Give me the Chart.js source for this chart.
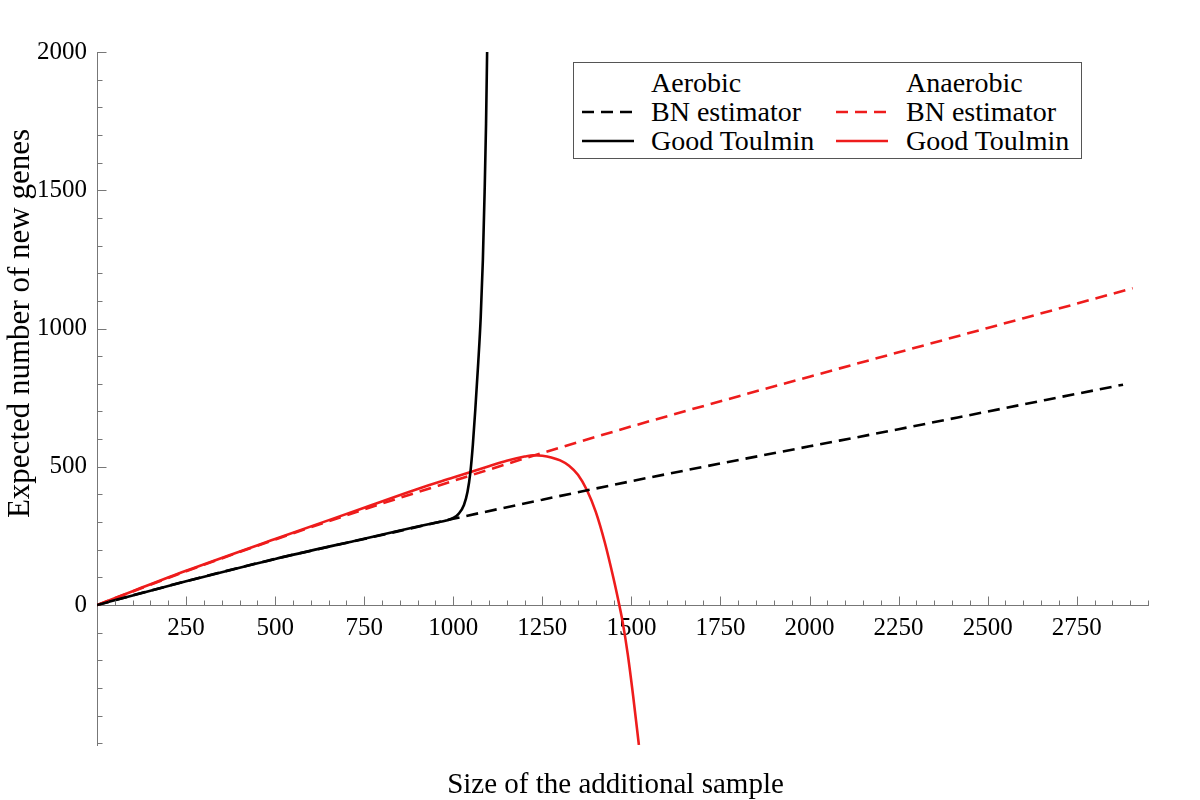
<!DOCTYPE html>
<html>
<head>
<meta charset="utf-8">
<script src="https://cdn.jsdelivr.net/npm/chart.js@4.4.1/dist/chart.umd.min.js"></script>
<style>
  html, body { margin: 0; padding: 0; background: #fff; }
  #wrap { position: relative; width: 1200px; height: 800px; }
  canvas { display: block; }
  #legend { position: absolute; left: 0; top: 0; }
</style>
</head>
<body>
<div id="wrap">
  <canvas id="c" width="1200" height="800"></canvas>
  <svg id="legend" width="1200" height="800" xmlns="http://www.w3.org/2000/svg"></svg>
</div>
<script>
// ---------- data ----------
const bnAerobicX = [0, 100, 250, 500, 750, 1000, 1250, 1500, 1750, 2000, 2250, 2500, 2750, 2880];
const bnAerobicY = [0, 35, 86, 167, 239, 312, 381, 448, 512, 574, 636, 700, 764, 797];

const bnAnaerobicX = [0, 100, 250, 500, 750, 1000, 1250, 1500, 1750, 2000, 2250, 2500, 2750, 2907];
const bnAnaerobicY = [0, 49, 122, 237, 346, 449, 550, 646, 737, 826, 914, 1002, 1090, 1146];

const gtAerobicX = [0, 100, 250, 500, 750, 900, 950, 980, 1000, 1015, 1030, 1040, 1048, 1055, 1062, 1070, 1077, 1083, 1088, 1092, 1095];
const gtAerobicY = [0, 35, 86, 167, 240, 284, 298, 306, 315, 330, 362, 410, 480, 580, 710, 875, 1040, 1245, 1495, 1740, 2000];

const gtAnaerobicX = [0, 100, 250, 500, 750, 900, 1000, 1100, 1150, 1200, 1225, 1250, 1275, 1300, 1325, 1350, 1375, 1400, 1425, 1450, 1466, 1475, 1490, 1505, 1521];
const gtAnaerobicY = [0, 50, 124, 239, 352, 420, 461, 502, 522, 537, 542, 540, 534, 523, 504, 471, 416, 337, 228, 95, 0, -58, -180, -330, -506];

const xTickLabels = [250, 500, 750, 1000, 1250, 1500, 1750, 2000, 2250, 2500, 2750];
const yTickLabels = [0, 500, 1000, 1500, 2000];

const xTitle = 'Size of the additional sample';
const yTitle = 'Expected number of new genes';
const legendHeaders = ['Aerobic', 'Anaerobic'];
const legendLabels = ['BN estimator', 'Good Toulmin'];

// ---------- styling ----------
const RED = '#ee1c1c';
const BLACK = '#000000';
const AXIS = '#777777';
const FONT = "'Liberation Serif', 'Times New Roman', serif";

function pts(xs, ys) { return xs.map((x, i) => ({ x: x, y: ys[i] })); }

const axisDecor = {
  id: 'axisDecor',
  afterDraw(chart) {
    const { ctx } = chart;
    const xs = chart.scales.x, ys = chart.scales.y;
    const y0 = Math.round(ys.getPixelForValue(0)) + 0.5;
    const x0 = Math.round(xs.getPixelForValue(0)) + 0.5;
    ctx.save();
    ctx.strokeStyle = AXIS;
    ctx.lineWidth = 1;
    ctx.beginPath();
    for (let v = 50; v <= xs.max + 0.001; v += 50) {
      const px = Math.round(xs.getPixelForValue(v)) + 0.5;
      const len = (v % 250 === 0) ? 9 : 5;
      ctx.moveTo(px, y0); ctx.lineTo(px, y0 - len);
    }
    for (let v = -500; v <= ys.max + 0.001; v += 100) {
      if (v === 0) continue;
      const py = Math.round(ys.getPixelForValue(v)) + 0.5;
      const len = (v % 500 === 0 && v > 0) ? 9 : 5;
      ctx.moveTo(x0, py); ctx.lineTo(x0 + len, py);
    }
    ctx.stroke();

    ctx.fillStyle = '#000';
    ctx.font = '29px ' + FONT;
    ctx.textAlign = 'center';
    ctx.textBaseline = 'middle';
    const area = chart.chartArea;
    ctx.fillText(xTitle, (area.left + area.right) / 2 - 7, 785);
    ctx.translate(21, ys.getPixelForValue(1000) - 5);
    ctx.rotate(-Math.PI / 2);
    ctx.font = '31px ' + FONT;
    ctx.fillText(yTitle, 0, 0);
    ctx.restore();
  }
};

const chart = new Chart(document.getElementById('c'), {
  type: 'line',
  data: {
    datasets: [
      { label: legendHeaders[0] + ' ' + legendLabels[0], data: pts(bnAerobicX, bnAerobicY),
        borderColor: BLACK, borderWidth: 2.6, borderDash: [12, 7] },
      { label: legendHeaders[1] + ' ' + legendLabels[0], data: pts(bnAnaerobicX, bnAnaerobicY),
        borderColor: RED, borderWidth: 2.6, borderDash: [12, 7] },
      { label: legendHeaders[0] + ' ' + legendLabels[1], data: pts(gtAerobicX, gtAerobicY),
        borderColor: BLACK, borderWidth: 2.6 },
      { label: legendHeaders[1] + ' ' + legendLabels[1], data: pts(gtAnaerobicX, gtAnaerobicY),
        borderColor: RED, borderWidth: 2.6 }
    ]
  },
  options: {
    responsive: false,
    animation: false,
    devicePixelRatio: 1,
    parsing: false,
    elements: {
      point: { radius: 0, hoverRadius: 0 },
      line: { cubicInterpolationMode: 'monotone', fill: false, borderCapStyle: 'butt' }
    },
    layout: { padding: { left: 0, top: 52, right: 52, bottom: 55 } },
    plugins: { legend: { display: false }, tooltip: { enabled: false }, title: { display: false } },
    scales: {
      x: {
        type: 'linear', min: 0, max: 2950,
        position: { y: 0 },
        grid: { display: false, drawTicks: false },
        border: { display: true, color: AXIS, width: 1 },
        ticks: {
          autoSkip: false, maxRotation: 0,
          padding: 8, color: '#000', font: { family: FONT, size: 25 },
          callback: v => String(v)
        },
        afterBuildTicks: s => { s.ticks = xTickLabels.map(v => ({ value: v })); },
        afterFit: s => { s.height = 0; }
      },
      y: {
        type: 'linear', min: -506, max: 2000, position: 'left',
        grid: { display: false, drawTicks: false },
        border: { display: true, color: AXIS, width: 1 },
        ticks: {
          autoSkip: false,
          padding: 10, color: '#000', font: { family: FONT, size: 25 },
          callback: v => String(v)
        },
        afterBuildTicks: s => { s.ticks = yTickLabels.map(v => ({ value: v })); },
        afterFit: s => { s.width = 97; }
      }
    }
  },
  plugins: [axisDecor]
});

// ---------- legend (SVG text) ----------
(function buildLegend() {
  const svg = document.getElementById('legend');
  const NS = 'http://www.w3.org/2000/svg';
  function el(tag, attrs, text) {
    const e = document.createElementNS(NS, tag);
    for (const k in attrs) e.setAttribute(k, attrs[k]);
    if (text !== undefined) e.textContent = text;
    svg.appendChild(e);
    return e;
  }
  el('rect', { x: 573.5, y: 62.5, width: 508, height: 96, fill: '#fff', stroke: '#555', 'stroke-width': 1 });
  const cols = [
    { lineX: 582, textX: 651, color: BLACK, header: legendHeaders[0] },
    { lineX: 836, textX: 906, color: RED, header: legendHeaders[1] }
  ];
  const baselines = [92, 121, 150];
  const style = { 'font-family': "Liberation Serif, Times New Roman, serif", 'font-size': 28, fill: '#000' };
  cols.forEach(c => {
    el('text', Object.assign({ x: c.textX, y: baselines[0] }, style), c.header);
    el('line', { x1: c.lineX, y1: baselines[1] - 9, x2: c.lineX + 52, y2: baselines[1] - 9,
      stroke: c.color, 'stroke-width': 2.6, 'stroke-dasharray': '12 7' });
    el('text', Object.assign({ x: c.textX, y: baselines[1] }, style), legendLabels[0]);
    el('line', { x1: c.lineX, y1: baselines[2] - 9, x2: c.lineX + 52, y2: baselines[2] - 9,
      stroke: c.color, 'stroke-width': 2.6 });
    el('text', Object.assign({ x: c.textX, y: baselines[2] }, style), legendLabels[1]);
  });
})();
</script>
</body>
</html>
